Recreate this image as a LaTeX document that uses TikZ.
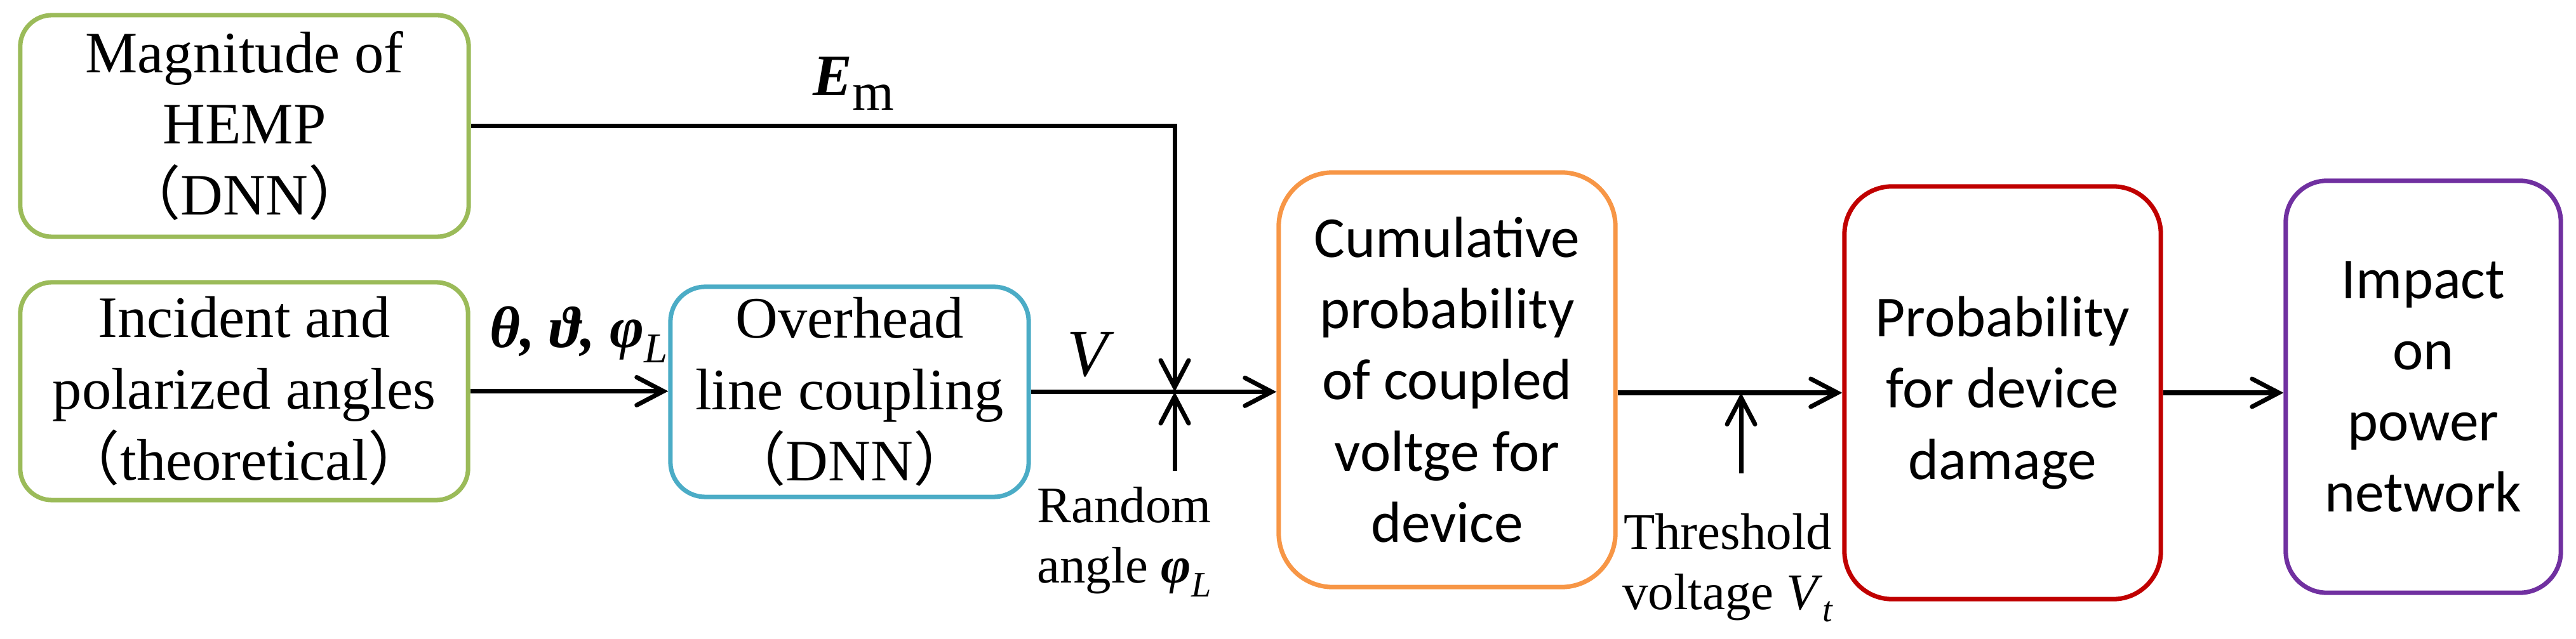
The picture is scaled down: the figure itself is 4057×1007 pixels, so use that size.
\documentclass[tikz,border=0pt]{standalone}
\usepackage{fontspec}
\setmainfont{Liberation Serif}
\newfontfamily\calibri{Carlito}
\newfontfamily\cjk{Noto Sans CJK SC}
\usetikzlibrary{arrows.meta}
\definecolor{hempgreen}{HTML}{9BBB59}
\definecolor{cplblue}{HTML}{4BACC6}
\definecolor{cumorange}{HTML}{F79646}
\definecolor{dmgred}{HTML}{C00000}
\definecolor{netpurple}{HTML}{7030A0}
\newcommand{\lpar}{{\cjk （}}
\newcommand{\rpar}{{\cjk ）}}
\newcommand{\bi}[1]{{\bfseries\itshape #1}}
\newcommand{\lowsub}[3]{\raisebox{-#1}{\fontsize{#2}{#2}\selectfont #3}}
\begin{document}
\begin{tikzpicture}[x=0.01cm,y=-0.01cm,line width=2pt,
  box/.style={draw,rounded corners=#1,align=center,inner sep=0pt},
  serif/.style={font=\fontsize{26.3}{31.9}\selectfont},
  sans/.style={font=\calibri\fontsize{26}{31.9}\selectfont},
  lbl/.style={font=\fontsize{23}{27}\selectfont,inner sep=0pt},
  arr/.style={-{Straight Barb[length=0.42cm,width=0.44cm,line cap=round]}}]
  \useasboundingbox (0,0) rectangle (4057,1007);
  % inputs
  \node[box=0.5cm,draw=hempgreen,minimum width=7.06cm,minimum height=3.49cm,serif] (mag) at (385,198.5) {Magnitude of\\HEMP\\\lpar DNN\rpar};
  \node[box=0.5cm,draw=hempgreen,minimum width=7.05cm,minimum height=3.43cm,serif] (inc) at (384.5,616.5) {Incident and\\polarized angles\\\lpar theoretical\rpar};
  % coupling model
  \node[box=0.55cm,draw=cplblue,minimum width=5.64cm,minimum height=3.31cm,serif] (ovh) at (1338,617.5) {Overhead\\line coupling\\\lpar DNN\rpar};
  % probability chain
  \node[box=0.85cm,draw=cumorange,minimum width=5.30cm,minimum height=6.53cm,sans] (cum) at (2279,598.5) {Cumulative\\probability\\of coupled\\voltge for\\device};
  \node[box=0.75cm,draw=dmgred,minimum width=4.98cm,minimum height=6.50cm,sans] (prob) at (3154,619) {Probability\\for device\\damage};
  \node[box=0.65cm,draw=netpurple,minimum width=4.33cm,minimum height=6.49cm,sans] (imp) at (3816.5,609.5) {Impact\\on\\power\\network};
  % connectors
  \coordinate (jn) at (1850,617.5);
  \coordinate (rnd) at (1850,742);
  \coordinate (thr) at (2742,746);
  \draw[arr] (inc.east) -- (inc.east -| ovh.west);
  \draw[arr] (ovh.east) -- (ovh.east -| cum.west);
  \draw[arr] (mag.east) -- (mag.east -| jn) -- (jn);
  \draw[arr] (rnd) -- (jn);
  \draw[arr] (prob.west -| cum.east) -- (prob.west);
  \draw[arr] (thr) -- (thr |- prob.west);
  \draw[arr] (prob.east) -- (prob.east -| imp.west);
  % labels
  \node[inner sep=0pt,anchor=base west,font=\fontsize{26.3}{30}\selectfont] (em) at (1277,151) {\bi{E}\lowsub{0.22cm}{24}{m}};
  \node[inner sep=0pt,anchor=base west,font=\fontsize{26.3}{30}\selectfont] (ang) at (768,548) {\bi{θ, ϑ, φ}\lowsub{0.23cm}{19}{\itshape L}};
  \node[inner sep=0pt,anchor=base west,font=\fontsize{30}{30}\selectfont\itshape] (vlab) at (1677,593) {V};
  \node[lbl,anchor=north west,align=left] (rlab) at (1630,764) {Random\\angle \bi{φ}\lowsub{0.22cm}{16}{\itshape L}};
  \node[lbl,anchor=north,align=center] (tlab) at (2721,806) {Threshold\\voltage \textit{V}\lowsub{0.19cm}{16}{\itshape t}};
\end{tikzpicture}
\end{document}
